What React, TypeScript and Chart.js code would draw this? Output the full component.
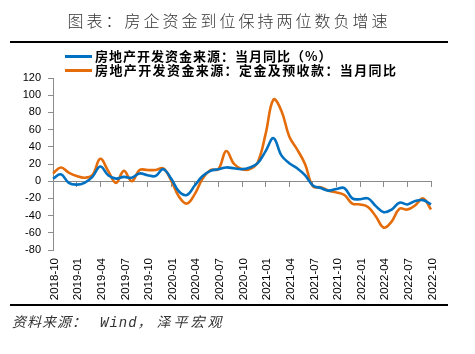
import React, { useEffect, useRef } from "react";
import { Chart, registerables } from "chart.js";

Chart.register(...registerables);

const months = [
  "2018-10", "2018-11", "2018-12",
  "2019-01", "2019-02", "2019-03", "2019-04", "2019-05", "2019-06", "2019-07", "2019-08", "2019-09", "2019-10", "2019-11", "2019-12",
  "2020-01", "2020-02", "2020-03", "2020-04", "2020-05", "2020-06", "2020-07", "2020-08", "2020-09", "2020-10", "2020-11", "2020-12",
  "2021-01", "2021-02", "2021-03", "2021-04", "2021-05", "2021-06", "2021-07", "2021-08", "2021-09", "2021-10", "2021-11", "2021-12",
  "2022-01", "2022-02", "2022-03", "2022-04", "2022-05", "2022-06", "2022-07", "2022-08", "2022-09", "2022-10",
];

// 房地产开发资金来源：当月同比（%）
const fundsYoY = [
  3, 8, -2,
  -4, -2, 5, 17, 7, 3, 5, 4, 9, 7, 6, 14,
  3, -12, -16, -5, 6, 12, 14, 16, 15, 14, 16, 21,
  35, 50, 30, 21, 15, 7, -5, -8, -11, -9, -8, -20,
  -21, -20, -29, -36, -33, -25, -27, -23, -22, -27,
];

// 房地产开发资金来源：定金及预收款：当月同比
const depositsYoY = [
  9, 16, 10,
  6, 4, 7, 26, 12, -2, 12, 0, 13, 13, 13, 15,
  1, -18, -26, -15, 3, 13, 14, 35, 20, 14, 14, 22,
  55, 95, 82, 52, 37, 20, -6, -7, -11, -13, -16, -26,
  -27, -30, -41, -54, -47, -32, -33, -28, -20, -33,
];

const legendLabels = [
  "房地产开发资金来源：当月同比（%）",
  "房地产开发资金来源：定金及预收款：当月同比",
];
const seriesColors = ["#0070C0", "#E46C0A"];

const Y_MIN = -80;
const Y_MAX = 120;
const Y_STEP = 20;
const TICK_EVERY = 3;

const axisGray = "#8c8c8c";

export default function App() {
  const ref = useRef<HTMLCanvasElement>(null);

  useEffect(() => {
    const chart = new Chart(ref.current!, {
      type: "line",
      data: {
        labels: months,
        datasets: [
          {
            label: legendLabels[0],
            data: fundsYoY,
            borderColor: seriesColors[0],
            backgroundColor: seriesColors[0],
            borderWidth: 2.6,
            pointRadius: 0,
            tension: 0.4,
            fill: false,
          },
          {
            label: legendLabels[1],
            data: depositsYoY,
            borderColor: seriesColors[1],
            backgroundColor: seriesColors[1],
            borderWidth: 2.6,
            pointRadius: 0,
            tension: 0.4,
            fill: false,
          },
        ],
      },
      options: {
        responsive: false,
        animation: false,
        layout: { padding: { top: 78, left: 0, right: 44, bottom: 54 } },
        plugins: { legend: { display: false }, tooltip: { enabled: false } },
        scales: {
          x: {
            type: "category",
            position: "bottom",
            offset: false,
            grid: { display: false, drawTicks: false },
            border: { display: false },
            ticks: {
              autoSkip: false,
              minRotation: 90,
              maxRotation: 90,
              padding: 8,
              labelOffset: 1.5,
              color: "#000",
              font: { family: "'Liberation Sans', Arial", size: 11.5 },
              callback: (_v: any, i: number) => (i % TICK_EVERY === 0 ? months[i] : null),
            },
            afterFit: (s: any) => {
              s.height = 50;
            },
          },
          x2: {
            type: "category",
            axis: "x",
            position: { y: 0 },
            offset: false,
            grid: {
              display: true,
              drawOnChartArea: false,
              drawTicks: true,
              tickLength: 5,
              tickWidth: 1,
              tickColor: (ctx: any) => (ctx.index % TICK_EVERY === 0 ? axisGray : "rgba(0,0,0,0)"),
            },
            border: { display: true, color: axisGray, width: 1 },
            ticks: { display: false, autoSkip: false },
          },
          y: {
            min: Y_MIN,
            max: Y_MAX,
            ticks: {
              stepSize: Y_STEP,
              padding: 7,
              color: "#000",
              font: { family: "'Liberation Sans', Arial", size: 11 },
            },
            grid: {
              drawOnChartArea: false,
              drawTicks: true,
              tickLength: 5,
              tickColor: axisGray,
            },
            border: { display: true, color: axisGray, width: 1 },
            afterFit: (s: any) => {
              s.width = 53;
            },
          },
        },
      },
    } as any);
    return () => chart.destroy();
  }, []);

  return (
    <div
      style={{
        position: "fixed",
        left: 0,
        top: 0,
        width: 475,
        height: 354,
        background: "#fff",
        overflow: "hidden",
      }}
    >
      <canvas
        ref={ref}
        width={475}
        height={354}
        style={{ position: "absolute", left: 0, top: 0, width: 475, height: 354 }}
      />
      <div
        style={{
          position: "absolute",
          left: 10,
          top: 10,
          width: 438,
          textAlign: "center",
          fontFamily: "'Noto Sans CJK SC', sans-serif",
          fontWeight: 300,
          fontSize: 16,
          lineHeight: "20px",
          letterSpacing: 3,
          color: "#333",
          whiteSpace: "nowrap",
        }}
      >
        图表：房企资金到位保持两位数负增速
      </div>
      <div style={{ position: "absolute", left: 10, top: 41, width: 438, height: 2, background: "#000" }} />
      {legendLabels.map((t, k) => (
        <div key={k} style={{ position: "absolute", left: 65, top: 49 + k * 14, height: 14, whiteSpace: "nowrap" }}>
          <div
            style={{
              position: "absolute",
              left: 0,
              top: 5.5,
              width: 27,
              height: 3,
              background: seriesColors[k],
            }}
          />
          <div
            style={{
              position: "absolute",
              left: 30,
              top: 0,
              fontFamily: "'Noto Sans CJK SC', sans-serif",
              fontWeight: 700,
              fontSize: 13,
              lineHeight: "14px",
              letterSpacing: k === 0 ? 1 : 1.4,
              color: "#000",
            }}
          >
            {t}
          </div>
        </div>
      ))}
      <div style={{ position: "absolute", left: 10, top: 304, width: 438, height: 2, background: "#000" }} />
      <div
        style={{
          position: "absolute",
          left: 12,
          top: 315,
          fontFamily: "'Liberation Mono', 'Noto Sans CJK SC', monospace",
          fontStyle: "italic",
          fontSize: 14,
          lineHeight: "16px",
          letterSpacing: 1,
          color: "#333",
          whiteSpace: "nowrap",
        }}
      >
        <span>资料来源：</span>
        <span style={{ marginLeft: 13 }}>Wind</span>
        <span>，</span>
        <span style={{ marginLeft: 4, letterSpacing: 3 }}>泽平宏观</span>
      </div>
    </div>
  );
}
